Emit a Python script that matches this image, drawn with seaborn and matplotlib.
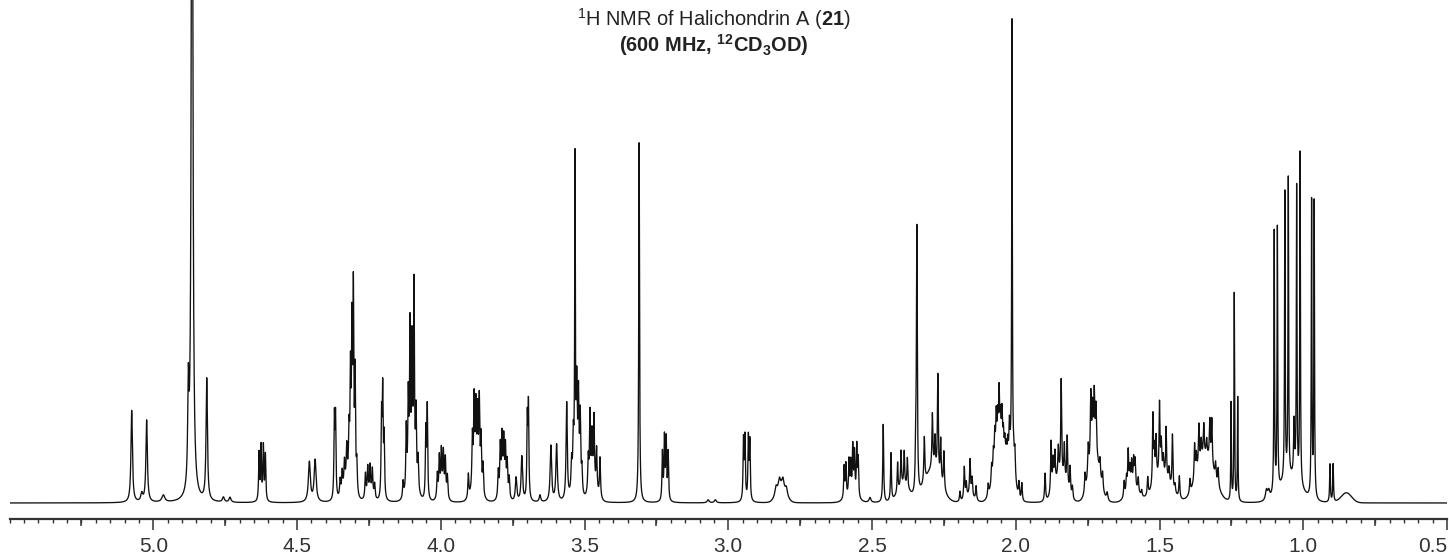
import numpy as np
import pandas as pd
import matplotlib
matplotlib.use("Agg")
import matplotlib.pyplot as plt
import seaborn as sns
from matplotlib.ticker import FixedLocator, MultipleLocator

# ---------------- data (ppm, height above baseline, half-width ppm)
lines_5_4 = [
    (5.075, 92, 0.0030), (5.023, 82, 0.0030), (5.040, 8, 0.004), (4.965, 7, 0.006),
    (4.878, 95, 0.0025), (4.865, 1000, 0.0028),
    (4.814, 122, 0.0028), (4.756, 5, 0.004), (4.733, 5, 0.004),
    (4.632, 48, 0.0018), (4.625, 54, 0.0018), (4.617, 54, 0.0018), (4.610, 46, 0.0018),
    (4.457, 40, 0.004), (4.437, 42, 0.004),
    (4.370, 80, 0.0018), (4.366, 80, 0.0018),
    (4.350, 16, 0.002), (4.343, 20, 0.002), (4.335, 24, 0.002), (4.327, 34, 0.002), (4.319, 48, 0.002),
    (4.314, 105, 0.0018), (4.309, 150, 0.0018), (4.304, 192, 0.0018), (4.298, 115, 0.0018), (4.292, 30, 0.002),
    (4.262, 24, 0.002), (4.254, 28, 0.002), (4.246, 28, 0.002), (4.238, 26, 0.002), (4.230, 14, 0.002),
    (4.206, 80, 0.0018), (4.202, 104, 0.0018), (4.197, 60, 0.0018),
    (4.131, 16, 0.002), (4.120, 62, 0.0018), (4.113, 85, 0.0018), (4.107, 150, 0.0018),
    (4.100, 130, 0.0018), (4.093, 192, 0.0018), (4.086, 70, 0.0018), (4.079, 32, 0.002),
    (4.052, 68, 0.0018), (4.047, 92, 0.0018),
    (4.012, 24, 0.002), (4.005, 38, 0.002), (3.998, 42, 0.002), (3.991, 40, 0.002),
    (3.984, 36, 0.002), (3.977, 22, 0.002),
]

lines_4_3 = [
    (3.904, 24, 0.002), (3.890, 52, 0.002), (3.884, 85, 0.002), (3.878, 75, 0.002),
    (3.872, 70, 0.002), (3.866, 85, 0.002), (3.860, 52, 0.002), (3.853, 30, 0.002),
    (3.800, 26, 0.002), (3.793, 48, 0.002), (3.787, 54, 0.002), (3.781, 50, 0.002),
    (3.775, 44, 0.002), (3.769, 32, 0.002), (3.762, 20, 0.002),
    (3.738, 24, 0.003), (3.718, 45, 0.003),
    (3.699, 78, 0.0018), (3.695, 92, 0.0018),
    (3.655, 7, 0.003),
    (3.617, 56, 0.003), (3.597, 57, 0.003),
    (3.562, 98, 0.0025),
    (3.545, 28, 0.002), (3.539, 45, 0.002), (3.533, 316, 0.0013), (3.527, 90, 0.002),
    (3.521, 85, 0.002), (3.515, 72, 0.002), (3.509, 24, 0.002),
    (3.487, 34, 0.002), (3.481, 76, 0.002), (3.474, 52, 0.002), (3.467, 70, 0.002),
    (3.458, 42, 0.002), (3.446, 40, 0.002),
    (3.310, 360, 0.0016),
    (3.229, 48, 0.0018), (3.222, 62, 0.0018), (3.216, 60, 0.0018), (3.209, 48, 0.0018),
    (3.070, 3, 0.004), (3.045, 3, 0.004),
    (2.947, 60, 0.0018), (2.942, 62, 0.0018), (2.930, 62, 0.0018), (2.925, 58, 0.0018),
    (2.834, 8, 0.004), (2.822, 9, 0.004), (2.810, 9, 0.004), (2.798, 7, 0.004),
    (2.597, 32, 0.0018), (2.591, 33, 0.0018), (2.580, 35, 0.0018), (2.574, 32, 0.0018),
    (2.567, 48, 0.0018), (2.561, 42, 0.0018), (2.553, 50, 0.0018), (2.548, 38, 0.0018),
    (2.507, 5, 0.004),
]

lines_2_5_to_2 = [
    (2.461, 78, 0.0018), (2.434, 48, 0.0018),
    (2.411, 30, 0.0018), (2.399, 36, 0.0018), (2.388, 34, 0.0018), (2.377, 30, 0.0018),
    (2.348, 40, 0.0018), (2.344, 265, 0.0018),
    (2.318, 45, 0.002), (2.290, 55, 0.002), (2.281, 32, 0.002), (2.271, 100, 0.0018),
    (2.261, 42, 0.002), (2.250, 38, 0.002),
    (2.194, 10, 0.002), (2.179, 32, 0.002), (2.172, 14, 0.002), (2.159, 36, 0.002),
    (2.152, 18, 0.002), (2.138, 14, 0.002),
    (2.096, 12, 0.002), (2.084, 18, 0.002), (2.078, 22, 0.002), (2.073, 32, 0.002),
    (2.068, 44, 0.002), (2.063, 35, 0.002), (2.058, 58, 0.002), (2.053, 32, 0.002),
    (2.048, 40, 0.002), (2.043, 24, 0.002), (2.038, 20, 0.002), (2.033, 16, 0.002),
    (2.028, 20, 0.002), (2.022, 35, 0.002), (2.013, 442, 0.0013), (2.007, 12, 0.002),
    (2.003, 26, 0.002), (1.989, 16, 0.002), (1.979, 18, 0.002),
]

lines_2_to_1_25 = [
    (1.898, 28, 0.002), (1.877, 52, 0.002), (1.870, 28, 0.002), (1.864, 32, 0.002),
    (1.852, 30, 0.002), (1.842, 96, 0.0018), (1.831, 36, 0.002), (1.821, 52, 0.002),
    (1.811, 28, 0.002), (1.803, 12, 0.002),
    (1.759, 18, 0.002), (1.748, 30, 0.002), (1.739, 66, 0.002), (1.733, 44, 0.002),
    (1.727, 56, 0.002), (1.721, 46, 0.002), (1.707, 16, 0.002), (1.698, 16, 0.002),
    (1.682, 8, 0.003),
    (1.623, 16, 0.002), (1.615, 16, 0.002), (1.609, 40, 0.002), (1.603, 20, 0.002),
    (1.597, 25, 0.002), (1.590, 27, 0.002), (1.585, 27, 0.002), (1.574, 14, 0.002),
    (1.562, 6, 0.002),
    (1.541, 18, 0.002), (1.523, 70, 0.0018), (1.518, 32, 0.002), (1.512, 42, 0.002),
    (1.500, 72, 0.0018), (1.494, 32, 0.002), (1.487, 18, 0.002), (1.477, 50, 0.0018),
    (1.467, 14, 0.002), (1.455, 54, 0.0018), (1.446, 8, 0.002), (1.431, 22, 0.002),
    (1.394, 14, 0.002), (1.378, 36, 0.002), (1.372, 20, 0.002), (1.363, 42, 0.002),
    (1.355, 20, 0.002), (1.346, 32, 0.002), (1.336, 16, 0.002), (1.325, 40, 0.002),
    (1.318, 46, 0.002), (1.305, 16, 0.002), (1.296, 18, 0.002),
]

lines_methyl = [
    (1.251, 98, 0.0012), (1.240, 208, 0.0012), (1.228, 104, 0.0012),
    (1.128, 10, 0.004), (1.120, 8, 0.004),
    (1.101, 262, 0.0013), (1.090, 262, 0.0013), (1.064, 287, 0.0013), (1.052, 298, 0.0013),
    (1.032, 55, 0.002), (1.023, 292, 0.0013), (1.011, 332, 0.0013),
    (0.971, 296, 0.0013), (0.962, 296, 0.0013),
    (0.907, 38, 0.0015), (0.896, 38, 0.0015),
]

# broad underlying envelopes (ppm, height, sigma ppm)
envelopes = [
    (4.325, 18, 0.015), (4.246, 7, 0.012), (4.100, 22, 0.015), (3.994, 8, 0.012),
    (3.877, 14, 0.015), (3.781, 9, 0.012), (3.530, 20, 0.012), (3.470, 12, 0.015),
    (2.816, 16, 0.016), (2.572, 6, 0.02),
    (2.390, 16, 0.02), (2.290, 32, 0.028), (2.160, 6, 0.015),
    (2.055, 48, 0.02), (2.015, 32, 0.012),
    (1.845, 25, 0.02), (1.727, 50, 0.018), (1.592, 14, 0.02), (1.490, 26, 0.03),
    (1.340, 46, 0.03), (1.045, 24, 0.035), (0.850, 10, 0.018),
]

tick_values = [5.0, 4.5, 4.0, 3.5, 3.0, 2.5, 2.0, 1.5, 1.0, 0.5]
tick_labels = ["5.0", "4.5", "4.0", "3.5", "3.0", "2.5", "2.0", "1.5", "1.0", "0.5"]
mid_ticks = [5.25, 4.75, 4.25, 3.75, 3.25, 2.75, 2.25, 1.75, 1.25, 0.75]
title_line1 = r"$^{1}$H NMR of Halichondrin A ($\mathbf{21}$)"
title_line2 = r"(600 MHz, $^{\mathbf{12}}$CD$_{\mathbf{3}}$OD)"

# ---------------- build the trace from the peak list
ppm = np.linspace(5.5, 0.5, 25001)
intensity = np.zeros_like(ppm)
for group in (lines_5_4, lines_4_3, lines_2_5_to_2, lines_2_to_1_25, lines_methyl):
    for c, h, w in group:
        intensity += h * w**2 / ((ppm - c) ** 2 + w**2)
for c, h, s in envelopes:
    intensity += h * np.exp(-0.5 * ((ppm - c) / s) ** 2)
df = pd.DataFrame({"ppm": ppm, "intensity": intensity})

# ---------------- figure
sns.set_theme(style="white")
plt.rcParams["font.family"] = ["Liberation Sans", "DejaVu Sans"]
plt.rcParams["mathtext.fontset"] = "custom"
plt.rcParams["mathtext.rm"] = "Liberation Sans"
plt.rcParams["mathtext.bf"] = "Liberation Sans:bold"
plt.rcParams["mathtext.it"] = "Liberation Sans:italic"

W, H = 1449, 555
fig = plt.figure(figsize=(W / 100, H / 100), dpi=100)
fig.patch.set_facecolor("white")
ax_left, ax_right, ax_bottom = 9.5, 1447.0, 36.5
ax = fig.add_axes([ax_left / W, ax_bottom / H, (ax_right - ax_left) / W, 1 - ax_bottom / H])
ax.set_facecolor("white")

sns.lineplot(data=df, x="ppm", y="intensity", ax=ax, color="#111111",
             linewidth=0.95, estimator=None, sort=False)

ax.set_xlim(5.5, 0.5)
ax.set_ylim(-15.5, 503)
ax.set_xlabel("")
ax.set_ylabel("")
ax.set_yticks([])
for side in ("top", "left", "right"):
    ax.spines[side].set_visible(False)
ax.spines["bottom"].set_linewidth(1.6)
ax.spines["bottom"].set_color("#333333")

ax.xaxis.set_major_locator(FixedLocator(tick_values))
ax.set_xticklabels(tick_labels)
ax.xaxis.set_minor_locator(MultipleLocator(0.05))
ax.tick_params(axis="x", which="major", direction="out", length=7.9, width=1.1,
               color="#333333", pad=5.5, labelsize=15, labelcolor="#333333", bottom=True)
ax.tick_params(axis="x", which="minor", direction="out", length=3.0, width=1.0,
               color="#333333", bottom=True)
for lab in ax.get_xticklabels():
    if lab.get_text() == "0.5":
        lab.set_horizontalalignment("right")

sec = ax.secondary_xaxis("bottom")
sec.set_xticks(mid_ticks)
sec.tick_params(axis="x", which="major", direction="out", length=5.2, width=1.1,
                color="#333333", labelbottom=False)
sec.xaxis.set_minor_locator(FixedLocator([]))
sec.spines["bottom"].set_visible(False)

fig.text(714 / W, 1 - 26 / H, title_line1, ha="center", va="baseline",
         fontsize=14.4, color="#222222")
fig.text(714 / W, 1 - 52 / H, title_line2, ha="center", va="baseline",
         fontsize=14.4, color="#222222", fontweight="bold")

fig.savefig("out.png", dpi=100, facecolor="white")
